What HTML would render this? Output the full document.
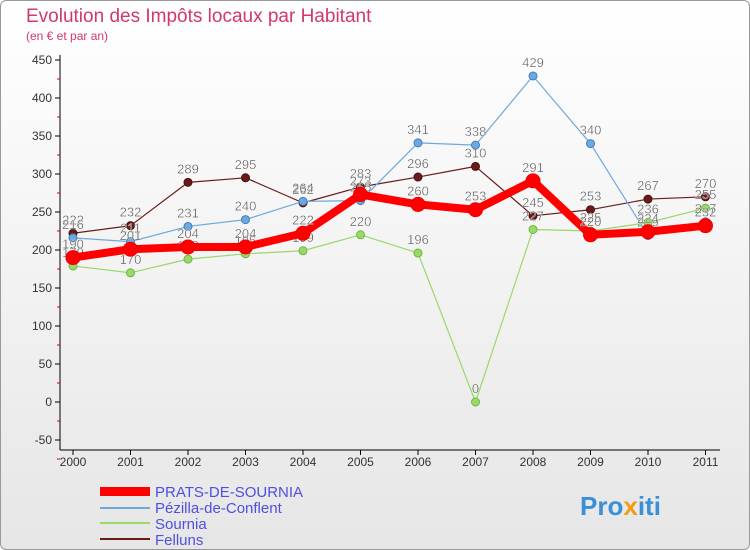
<!DOCTYPE html>
<html><head><meta charset="utf-8"><style>
body{margin:0;width:750px;height:550px;overflow:hidden;font-family:"Liberation Sans",sans-serif;}
#wrap{position:relative;width:748px;height:548px;border:1px solid #999;border-radius:6px;background:linear-gradient(#fff,#e6e6e6);}
</style></head><body>
<div id="wrap">
<svg id="chart" width="750" height="550" style="position:absolute;left:-1px;top:-1px">
<text x="26" y="22" font-size="19" fill="#d2376d">Evolution des Impôts locaux par Habitant</text>
<text x="26" y="40" font-size="12" fill="#d2376d">(en € et par an)</text>
<g id="axes"></g><g id="series"></g>
<g font-size="15" fill="#4f4fe0">
<rect x="100" y="487" width="50" height="9" fill="#f00"/>
<text x="155" y="497">PRATS-DE-SOURNIA</text>
<rect x="100" y="507" width="50" height="2" fill="#6fa8dc"/>
<text x="155" y="513">Pézilla-de-Conflent</text>
<rect x="100" y="522" width="50" height="2" fill="#9ad86a"/>
<text x="155" y="529">Sournia</text>
<rect x="100" y="538" width="50" height="2" fill="#6b1a1a"/>
<text x="155" y="545">Felluns</text>
</g>
<text x="580" y="515" font-size="26" font-weight="bold" fill="#3a8fd8">Pro<tspan fill="#f39c12">x</tspan>iti</text>
</svg>
</div>
<script>
const years=["2000","2001","2002","2003","2004","2005","2006","2007","2008","2009","2010","2011"];
const yTicks=[-50,0,50,100,150,200,250,300,350,400,450];
const prats=[190,201,204,204,222,273,260,253,291,220,224,232];
const pezilla=[216,211,231,240,264,265,341,338,429,340,219,237];
const sournia=[179,170,188,195,199,220,196,0,227,225,236,255];
const felluns=[222,232,289,295,262,283,296,310,245,253,267,270];
const NS="http://www.w3.org/2000/svg";
const X=i=>73+i*57.5;
const Y=v=>402-v*0.76;
function mk(t,a,p){const e=document.createElementNS(NS,t);for(const k in a)e.setAttribute(k,a[k]);p.appendChild(e);return e;}
const ax=document.getElementById('axes');
const s=document.getElementById('series');
let l=mk('line',{x1:60,y1:55,x2:60,y2:450,stroke:'#000'},ax);


l=mk('line',{x1:60,y1:450,x2:720,y2:450,stroke:'#000'},ax);


yTicks.forEach(v=>{const y=Y(v);
mk('line',{x1:55,y1:y,x2:60,y2:y,stroke:'#000'},ax);
mk('line',{x1:57,y1:y+19,x2:60,y2:y+19,stroke:'#d00'},ax);
const t=mk('text',{x:52,y:y+4,'text-anchor':'end','font-size':12,fill:'#333'},ax);t.textContent=v;

});
years.forEach((yr,i)=>{const x=X(i);mk('line',{x1:x,y1:450,x2:x,y2:455,stroke:'#000'},ax);
const t=mk('text',{x:x,y:466,'text-anchor':'middle','font-size':12,fill:'#333'},ax);t.textContent=yr;

});
function draw(d,col,w,r,name,dark){
const p=mk('polyline',{points:d.map((v,i)=>X(i)+','+Y(v)).join(' '),fill:'none',stroke:col,'stroke-width':w,'stroke-linejoin':'round'},s);


d.forEach((v,i)=>{const c=mk('circle',{cx:X(i),cy:Y(v),r:r,fill:col,stroke:dark,'stroke-width':1},s);


const t=mk('text',{x:X(i),y:Y(v)-9,'text-anchor':'middle','font-size':13,fill:'#555',stroke:'#fff','stroke-width':0.3},s);t.textContent=v;

});}
draw(felluns,'#6b1a1a',1.2,4,'felluns','#4a0f0f');
draw(pezilla,'#6fa8dc',1.2,4,'pezilla','#3b7fc0');
draw(sournia,'#9ad86a',1.2,4,'sournia','#6cb83e');
draw(prats,'#f00',8,7,'prats','#e00');
</script>
</body></html>
